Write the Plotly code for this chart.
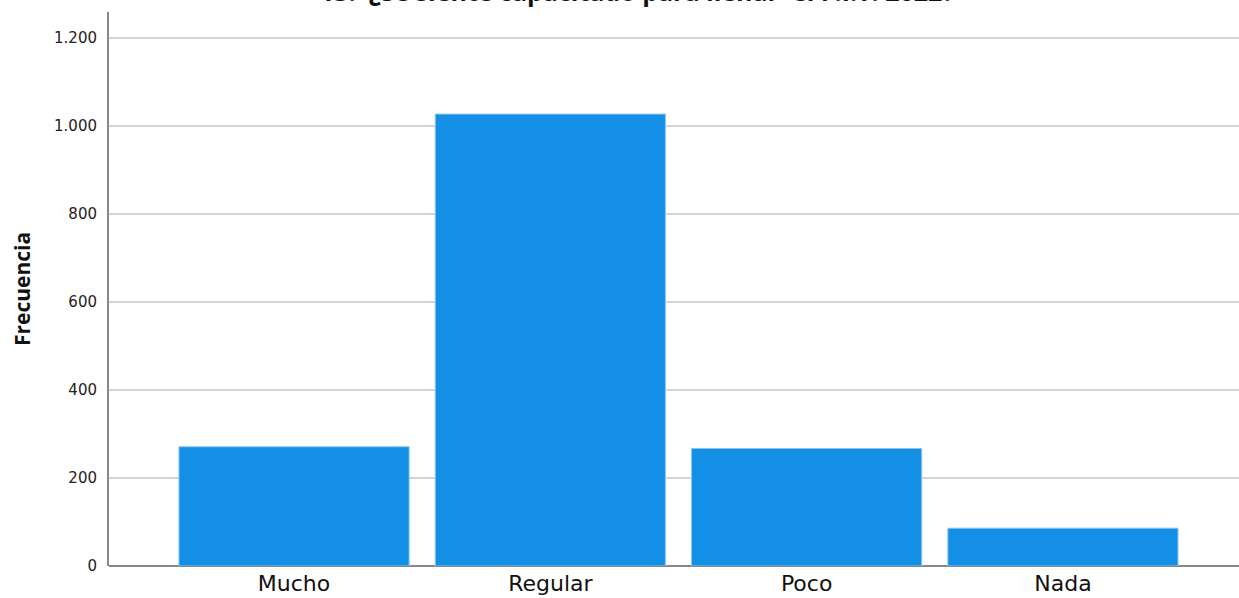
import plotly.graph_objects as go

categories = ["Mucho", "Regular", "Poco", "Nada"]
values = [271, 1027, 267, 86]
y_ticks = [0, 200, 400, 600, 800, 1000, 1200]

title_text = "13.  ¿Se siente capacitado para llenar  el F.I.T. 2022?"

fig = go.Figure()
fig.add_trace(go.Bar(
    x=categories, y=values,
    marker=dict(color="#1390E6", line=dict(color="#8cc4f0", width=1)),
    width=0.898,
))

fig.update_layout(
    width=1239, height=598,
    margin=dict(l=109, r=0, t=12, b=32),
    paper_bgcolor="white", plot_bgcolor="white",
    separators=",.",
    showlegend=False,
    font=dict(family="DejaVu Sans", color="#222"),
    xaxis=dict(
        range=[-0.722, 3.687], automargin=False,
        showgrid=False, showline=False, ticks="", ticklabelstandoff=2,
        tickfont=dict(size=22, family="DejaVu Sans", color="#111"),
    ),
    yaxis=dict(
        range=[0, 1259], automargin=False,
        tickvals=y_ticks, tickformat=",d",
        showgrid=True, gridcolor="#d4d4d4", gridwidth=1.5,
        showline=True, linecolor="#888888", linewidth=2,
        zeroline=True, zerolinecolor="#888888", zerolinewidth=2,
        ticks="", ticklabelstandoff=7,
        tickfont=dict(size=15, family="DejaVu Sans", color="#222"),
        title=dict(text="<b>Frecuencia</b>", font=dict(size=21, family="Open Sans", color="#111"), standoff=18),
    ),
    annotations=[dict(
        text="<b>" + title_text + "</b>", x=0.467, xref="paper", y=1.004, yref="paper",
        yanchor="bottom", xanchor="center", showarrow=False,
        font=dict(size=25, family="Open Sans", color="#111"),
    )],
)

fig.write_html(
    "out.html",
    config={"displayModeBar": False},
    post_script="document.body.style.margin='0';document.body.style.overflow='hidden';",
)
